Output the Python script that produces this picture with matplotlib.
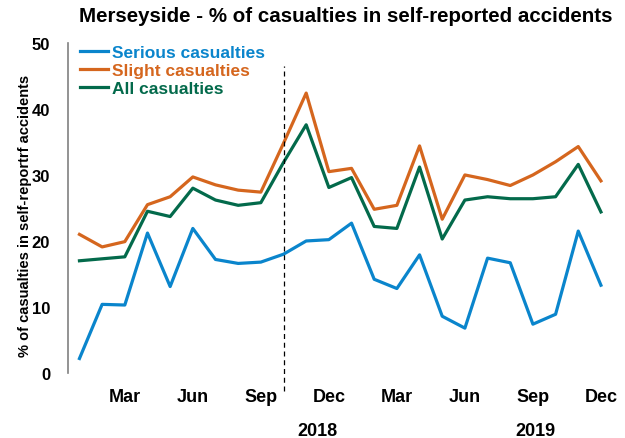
import matplotlib
matplotlib.use("Agg")
from matplotlib import pyplot as plt

plt.rcParams['font.family'] = ['Liberation Sans', 'DejaVu Sans']
plt.rcParams['font.weight'] = 'bold'

months = ['Jan', 'Feb', 'Mar', 'Apr', 'May', 'Jun', 'Jul', 'Aug', 'Sep', 'Oct', 'Nov', 'Dec'] * 2
serious = [2.2, 10.4, 10.3, 21.2, 13.1, 21.9, 17.2, 16.6, 16.8, 18.0, 20.0, 20.2,
           22.7, 14.2, 12.8, 17.9, 8.6, 6.8, 17.4, 16.7, 7.4, 8.9, 21.5, 13.3]
slight = [21.0, 19.1, 19.9, 25.5, 26.7, 29.7, 28.5, 27.7, 27.4, 34.8, 42.4, 30.5,
          31.0, 24.8, 25.4, 34.4, 23.3, 30.0, 29.3, 28.4, 30.0, 32.0, 34.3, 29.1]
all_cas = [17.0, 17.3, 17.6, 24.5, 23.7, 28.0, 26.2, 25.4, 25.8, 31.9, 37.6, 28.1,
           29.6, 22.2, 21.9, 31.2, 20.3, 26.2, 26.7, 26.4, 26.4, 26.7, 31.6, 24.4]
tick_labels = ['Mar', 'Jun', 'Sep', 'Dec', 'Mar', 'Jun', 'Sep', 'Dec']
years = ['2018', '2019']

x = list(range(len(months)))
fig = plt.figure(figsize=(6.25, 4.39), dpi=100)
ax = fig.add_axes([0.109, 0.148, 0.867, 0.752])

ax.plot(x, serious, color='#0A85CC', lw=2.3, label='Serious casualties')
ax.plot(x, slight, color='#D5661E', lw=2.3, label='Slight casualties')
ax.plot(x, all_cas, color='#036A4B', lw=2.3, label='All casualties')

ax.axvline(9, ymin=-0.055, ymax=0.93, color='black', lw=0.9, ls=(0, (4, 3)), clip_on=False)

ax.set_xlim(-0.5, 23.4)
ax.set_ylim(0, 50)
ax.set_yticks([0, 10, 20, 30, 40, 50])
tick_pos = [i for i, m in enumerate(months) if m in ('Mar', 'Jun', 'Sep', 'Dec')]
ax.set_xticks(tick_pos)
ax.set_xticklabels(tick_labels)
ax.tick_params(axis='y', length=0, labelsize=12, pad=13)
ax.tick_params(axis='x', length=0, labelsize=13, pad=11)
for s in ['top', 'right', 'bottom']:
    ax.spines[s].set_visible(False)
ax.spines['left'].set_color('#808080')
ax.spines['left'].set_linewidth(1.2)

ax.text(10.5, -8.7, years[0], ha='center', va='center', fontsize=13, fontweight='bold')
ax.text(20.1, -8.7, years[1], ha='center', va='center', fontsize=13, fontweight='bold')

ax.set_ylabel('% of casualties in self-reportrf accidents', fontsize=10.5, fontweight='bold')
ax.yaxis.set_label_coords(-0.066, 0.48)
fig.suptitle('Merseyside - % of casualties in self-reported accidents', x=0.553, y=0.985,
             fontsize=14.8, fontweight='bold')

ax.legend(loc='upper left', bbox_to_anchor=(0.0, 1.03), frameon=False, labelcolor='linecolor',
          prop={'weight': 'bold', 'size': 12.5}, handlelength=1.6, handletextpad=0.2,
          labelspacing=0.15, borderaxespad=0.3)

plt.savefig('out.png', dpi=100)
